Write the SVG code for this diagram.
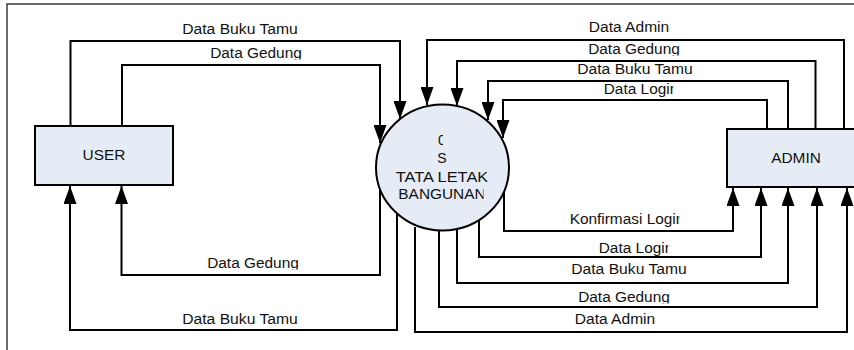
<svg xmlns="http://www.w3.org/2000/svg" width="854" height="350" viewBox="0 0 854 350">
<style>
.frame{fill:none;stroke:#3c3c3c;stroke-width:1.5}
.box{fill:#e6ecf6;stroke:#000;stroke-width:2}
.c{fill:none;stroke:#000;stroke-width:2;marker-end:url(#ah)}
text{font-family:"Liberation Sans",Arial,sans-serif;font-size:14px;fill:#111;text-anchor:middle}
</style>
<defs>
<marker id="ah" markerUnits="userSpaceOnUse" markerWidth="18" markerHeight="13" refX="18" refY="6.5" orient="auto" viewBox="0 0 18 13">
<path d="M0,0 L18,6.5 L0,13 z" fill="#000"/>
</marker>
<clipPath id="cg1"><rect x="150" y="40" width="200" height="19.5"/></clipPath>
<clipPath id="cg2"><rect x="550" y="36" width="200" height="19.5"/></clipPath>
<clipPath id="cg3"><rect x="540" y="285" width="200" height="18.5"/></clipPath>
<clipPath id="cg4"><rect x="150" y="250" width="200" height="19.5"/></clipPath>
<clipPath id="cl1"><rect x="550" y="80" width="123.5" height="20"/></clipPath>
<clipPath id="cl2"><rect x="550" y="238" width="118.5" height="20"/></clipPath>
<clipPath id="ck"><rect x="500" y="208" width="179.5" height="20"/></clipPath>
<clipPath id="p0"><rect x="420" y="130" width="23" height="20"/></clipPath>
<clipPath id="p2"><rect x="380" y="166" width="107.5" height="20"/></clipPath>
<clipPath id="p3"><rect x="380" y="184" width="103.5" height="20"/></clipPath>
</defs>
<rect class="frame" x="7" y="4" width="900" height="400"/>
<g id="connectors">
<path class="c" d="M70.5,126 V41 H400 V119"/>
<path class="c" d="M122,126 V65 H380 V143"/>
<path class="c" d="M380,189 V275 H121.5 V186"/>
<path class="c" d="M397,212 V330 H70 V186"/>
<path class="c" d="M844,129 V40 H427 V105"/>
<path class="c" d="M815.5,129 V61 H457 V106"/>
<path class="c" d="M788,129 V81 H488 V120"/>
<path class="c" d="M767,135 V100 H503 V138"/>
<path class="c" d="M504,191 V231 H733 V188"/>
<path class="c" d="M479,220 V257 H761 V188"/>
<path class="c" d="M457,229 V283 H788 V188"/>
<path class="c" d="M439,230 V307 H817 V188"/>
<path class="c" d="M415,227 V332 H847 V188"/>
<text x="240" y="34" textLength="115.6" lengthAdjust="spacingAndGlyphs">Data Buku Tamu</text>
<text x="256" y="58" textLength="91.6" lengthAdjust="spacingAndGlyphs" clip-path="url(#cg1)">Data Gedung</text>
<text x="629" y="32" textLength="80.4" lengthAdjust="spacingAndGlyphs">Data Admin</text>
<text x="634" y="54" textLength="91.6" lengthAdjust="spacingAndGlyphs" clip-path="url(#cg2)">Data Gedung</text>
<text x="635" y="74" textLength="115.6" lengthAdjust="spacingAndGlyphs">Data Buku Tamu</text>
<text x="641" y="94" textLength="74.5" lengthAdjust="spacingAndGlyphs" clip-path="url(#cl1)">Data Login</text>
<text x="627" y="224" textLength="114.7" lengthAdjust="spacingAndGlyphs" clip-path="url(#ck)">Konfirmasi Login</text>
<text x="636" y="253" textLength="74.5" lengthAdjust="spacingAndGlyphs" clip-path="url(#cl2)">Data Login</text>
<text x="629" y="274" textLength="115.6" lengthAdjust="spacingAndGlyphs">Data Buku Tamu</text>
<text x="624" y="302" textLength="91.6" lengthAdjust="spacingAndGlyphs" clip-path="url(#cg3)">Data Gedung</text>
<text x="615" y="324" textLength="80.4" lengthAdjust="spacingAndGlyphs">Data Admin</text>
<text x="253" y="268" textLength="91.6" lengthAdjust="spacingAndGlyphs" clip-path="url(#cg4)">Data Gedung</text>
<text x="240" y="324" textLength="115.6" lengthAdjust="spacingAndGlyphs">Data Buku Tamu</text>
</g>
<g id="user">
<rect class="box" x="35" y="126" width="138" height="59"/>
<text x="104" y="160" textLength="42.8" lengthAdjust="spacingAndGlyphs">USER</text>
</g>
<g id="admin">
<rect class="box" x="727" y="129" width="150" height="58"/>
<text x="796" y="163" textLength="49.6" lengthAdjust="spacingAndGlyphs">ADMIN</text>
</g>
<g id="process">
<ellipse class="box" cx="442.5" cy="167.5" rx="66.5" ry="63"/>
<text x="442" y="145" clip-path="url(#p0)">0</text>
<text x="442" y="163">S</text>
<text x="442" y="181.5" textLength="92.4" lengthAdjust="spacingAndGlyphs" clip-path="url(#p2)">TATA LETAK</text>
<text x="442" y="199" textLength="87.3" lengthAdjust="spacingAndGlyphs" clip-path="url(#p3)">BANGUNAN</text>
</g>
</svg>
